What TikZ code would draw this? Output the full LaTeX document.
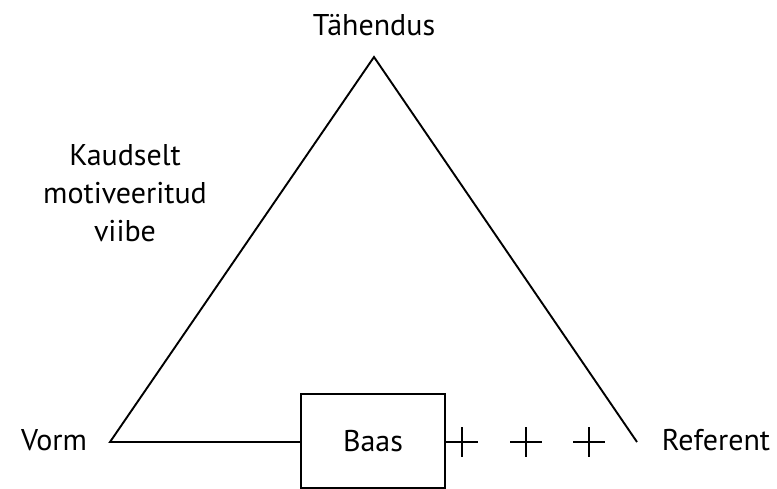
\documentclass[tikz,border=0pt]{standalone}
\usepackage{fontspec}
\setmainfont{PT Sans}
\usetikzlibrary{positioning}
\tikzset{
  lbl/.style={font=\fontsize{30}{38}\selectfont, align=center, inner sep=0pt},
  baasbox/.style={draw, minimum width=144pt, minimum height=94pt, inner sep=0pt}
}
\begin{document}
\begin{tikzpicture}[x=1pt, y=-1pt, line width=1.9pt]
    \useasboundingbox (0,0) rectangle (777,489);

    % Corners of the triangle
    \coordinate (tipp) at (374,57);
    \coordinate (vasak) at (110,442);
    \coordinate (parem) at (637,442);

    % Labels
    \node[lbl] (tahendus) at (374,25) {Tähendus};
    \node[lbl] (vorm) at (54,440) {Vorm};
    \node[lbl] (referent) at (716,440) {Referent};
    \node[lbl] (viibe) at (125,193) {Kaudselt\\motiveeritud\\viibe};

    % Base box
    \node[baasbox, lbl] (baas) at (373,441) {Baas};

    % Triangle sides
    \draw (baas.west |- vasak) -- (vasak) -- (tipp) -- (parem);

    % Plus signs
    \foreach \px in {462,526,589}
        \draw (\px-16,442) -- (\px+16,442) (\px,427) -- (\px,457);
\end{tikzpicture}
\end{document}
